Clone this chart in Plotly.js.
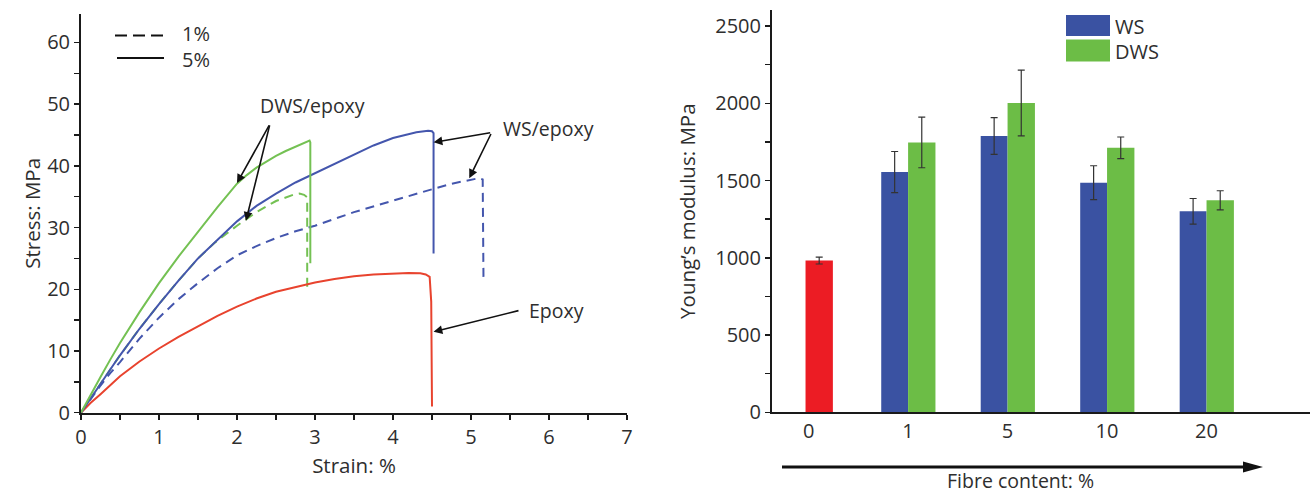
<!DOCTYPE html>
<html>
<head>
<meta charset="utf-8">
<script src="https://cdn.plot.ly/plotly-3.0.1.min.js"></script>
<style>html,body{margin:0;padding:0;background:#fff;}#chart{width:1310px;height:494px;}</style>
</head>
<body>
<div id="chart"></div>
<script>
// ---- Left panel: stress-strain curves ----
const strainWS5 = [0, 0.125, 0.25, 0.375, 0.5, 0.75, 1, 1.25, 1.5, 1.75, 2, 2.25, 2.5, 2.75, 3, 3.25, 3.5, 3.75, 4, 4.15, 4.3, 4.45, 4.5, 4.52, 4.52];
const stressWS5 = [0, 2.4, 4.7, 7.0, 9.3, 13.6, 17.6, 21.4, 25, 28, 31, 33.5, 35.5, 37.3, 38.8, 40.3, 41.9, 43.3, 44.5, 45.0, 45.45, 45.7, 45.6, 45.3, 25.8];

const strainWS1 = [0, 0.125, 0.25, 0.375, 0.5, 0.75, 1, 1.25, 1.5, 1.75, 2, 2.25, 2.5, 2.75, 3, 3.5, 4, 4.5, 4.75, 5, 5.1, 5.15, 5.16];
const stressWS1 = [0, 2.3, 4.4, 6.4, 8.2, 12, 15.4, 18.4, 21, 23.4, 25.5, 27.0, 28.3, 29.4, 30.3, 32.5, 34.4, 36.2, 37.1, 37.8, 38.0, 37.8, 21.8];

const strainDWS5 = [0, 0.125, 0.25, 0.375, 0.5, 0.75, 1, 1.25, 1.5, 1.75, 2, 2.125, 2.25, 2.375, 2.5, 2.625, 2.75, 2.85, 2.93, 2.94, 2.94];
const stressDWS5 = [0, 3.0, 5.8, 8.6, 11.3, 16.3, 21, 25.3, 29.3, 33.3, 37.1, 38.5, 39.7, 40.7, 41.6, 42.4, 43.1, 43.7, 44.1, 43.8, 24.2];

const strainDWS1 = [0, 0.125, 0.25, 0.375, 0.5, 0.75, 1, 1.25, 1.5, 1.72, 2.0, 2.25, 2.5, 2.62, 2.72, 2.8, 2.86, 2.9, 2.9];
const stressDWS1 = [0, 2.4, 4.7, 7.0, 9.3, 13.6, 17.6, 21.4, 25, 27.6, 30.3, 32.5, 34.3, 34.9, 35.3, 35.5, 35.3, 34.9, 20.1];

const strainEpoxy = [0, 0.125, 0.25, 0.5, 0.75, 1, 1.25, 1.5, 1.75, 2, 2.25, 2.5, 2.75, 3, 3.25, 3.5, 3.75, 4, 4.2, 4.35, 4.42, 4.47, 4.49, 4.5];
const stressEpoxy = [0, 1.6, 3, 5.9, 8.3, 10.4, 12.3, 14, 15.7, 17.2, 18.5, 19.6, 20.4, 21.1, 21.65, 22.1, 22.4, 22.6, 22.65, 22.6, 22.4, 22.0, 18, 1.0];

// ---- Right panel: Young's modulus ----
const fibreCats = ['0', '1', '5', '10', '20'];
const epoxyCat = ['0'];
const epoxyModulus = [982];
const epoxyErr = [22];
const wsCats = ['1', '5', '10', '20'];
const wsModulus = [1555, 1788, 1486, 1301];
const wsErr = [133, 119, 110, 83];
const dwsModulus = [1747, 2002, 1712, 1372];
const dwsErr = [164, 213, 70, 62];

const BLUE_LINE = '#4456ad', GREEN_LINE = '#74c153', RED_LINE = '#e8432e';
const BLUE_BAR = '#3a52a2', GREEN_BAR = '#6cbd46', RED_BAR = '#ec1c24';
const FONT = '"Open Sans", "Noto Sans", sans-serif';
const TXT = '#2e2e2e';

const W = 1310, H = 494;
const px = v => v / W, py = v => 1 - v / H;

const ln = (color, dash) => ({color: color, width: 2, dash: dash || 'solid', shape: 'linear'});

const traces = [
  {x: strainDWS1, y: stressDWS1, type: 'scatter', mode: 'lines', xaxis: 'x', yaxis: 'y',
   line: ln(GREEN_LINE, '9px,6px'), showlegend: false},
  {x: strainWS1, y: stressWS1, type: 'scatter', mode: 'lines', xaxis: 'x', yaxis: 'y',
   line: ln(BLUE_LINE, '9px,6px'), showlegend: false},
  {x: strainEpoxy, y: stressEpoxy, type: 'scatter', mode: 'lines', xaxis: 'x', yaxis: 'y',
   line: ln(RED_LINE), showlegend: false},
  {x: strainWS5, y: stressWS5, type: 'scatter', mode: 'lines', xaxis: 'x', yaxis: 'y',
   line: ln(BLUE_LINE), showlegend: false},
  {x: strainDWS5, y: stressDWS5, type: 'scatter', mode: 'lines', xaxis: 'x', yaxis: 'y',
   line: ln(GREEN_LINE), showlegend: false},

  {x: epoxyCat, y: epoxyModulus, type: 'bar', xaxis: 'x2', yaxis: 'y2', name: 'Epoxy',
   marker: {color: RED_BAR}, width: 0.275, offset: -0.031, showlegend: false,
   error_y: {type: 'data', array: epoxyErr, color: '#333', thickness: 1.2, width: 3.5}},
  {x: wsCats, y: wsModulus, type: 'bar', xaxis: 'x2', yaxis: 'y2', name: 'WS',
   marker: {color: BLUE_BAR}, width: 0.27, offset: -0.27, showlegend: false,
   error_y: {type: 'data', array: wsErr, color: '#333', thickness: 1.2, width: 3.5}},
  {x: wsCats, y: dwsModulus, type: 'bar', xaxis: 'x2', yaxis: 'y2', name: 'DWS',
   marker: {color: GREEN_BAR}, width: 0.275, offset: 0, showlegend: false,
   error_y: {type: 'data', array: dwsErr, color: '#333', thickness: 1.2, width: 3.5}}
];

const axisCommon = {
  showgrid: false, zeroline: false, showline: true, linecolor: '#1a1a1a', linewidth: 2,
  ticks: 'outside', ticklen: 5, tickwidth: 1.5, tickcolor: '#1a1a1a',
  tickfont: {family: FONT, size: 20, color: TXT}, fixedrange: true
};
const titleFont = {family: FONT, size: 20.5, color: TXT};
const annFont = {family: FONT, size: 19.5, color: TXT};
const legFont = {family: FONT, size: 20, color: TXT};

const layout = {
  width: W, height: H, margin: {l: 0, r: 0, t: 0, b: 0},
  paper_bgcolor: '#fff', plot_bgcolor: 'rgba(0,0,0,0)',
  font: {family: FONT, color: TXT},
  barmode: 'overlay', showlegend: false,
  xaxis: Object.assign({}, axisCommon, {
    domain: [px(81), px(627)], range: [0, 7], anchor: 'y',
    tickmode: 'array', tickvals: [0, 1, 2, 3, 4, 5, 6, 7],
    minor: {dtick: 0.5, ticks: 'outside', ticklen: 5, tickwidth: 1.5, tickcolor: '#1a1a1a', showgrid: false},
    title: {text: 'Strain: %', font: titleFont, standoff: 10}
  }),
  yaxis: Object.assign({}, axisCommon, {
    domain: [1 - 412.7 / H, 1 - 14 / H], range: [0, 64.6], anchor: 'x',
    tickmode: 'array', tickvals: [0, 10, 20, 30, 40, 50, 60],
    minor: {dtick: 5, ticks: 'outside', ticklen: 5, tickwidth: 1.5, tickcolor: '#1a1a1a', showgrid: false},
    title: {text: 'Stress: MPa', font: titleFont, standoff: 1}
  }),
  xaxis2: Object.assign({}, axisCommon, {
    domain: [px(772), 1], range: [-0.368, 5.04], anchor: 'y2', type: 'category',
    categoryorder: 'array', categoryarray: fibreCats, ticks: '', ticklen: 0
  }),
  yaxis2: Object.assign({}, axisCommon, {
    domain: [1 - 412.3 / H, 1 - 10 / H], range: [0, 2604], anchor: 'x2',
    tickmode: 'array', tickvals: [0, 500, 1000, 1500, 2000, 2500],
    minor: {dtick: 250, ticks: 'outside', ticklen: 5, tickwidth: 1.5, tickcolor: '#1a1a1a', showgrid: false},
    title: {text: 'Young\u2019s modulus: MPa', font: titleFont, standoff: 14}
  }),
  shapes: [
    // left legend
    {type: 'line', xref: 'paper', yref: 'paper', x0: px(115), x1: px(163), y0: py(35.5), y1: py(35.5),
     line: {color: '#111', width: 2, dash: '12px,6px'}},
    {type: 'line', xref: 'paper', yref: 'paper', x0: px(117), x1: px(164), y0: py(58), y1: py(58),
     line: {color: '#111', width: 2}},
    // right legend boxes
    {type: 'rect', xref: 'paper', yref: 'paper', x0: px(1066), x1: px(1110), y0: py(36), y1: py(15),
     fillcolor: BLUE_BAR, line: {width: 0}},
    {type: 'rect', xref: 'paper', yref: 'paper', x0: px(1066), x1: px(1110), y0: py(61.5), y1: py(39.5),
     fillcolor: GREEN_BAR, line: {width: 0}},
    // fibre content arrow
    {type: 'line', xref: 'paper', yref: 'paper', x0: px(782), x1: px(1248), y0: py(467), y1: py(467),
     line: {color: '#111', width: 3}},
    {type: 'path', xref: 'paper', yref: 'paper',
     path: 'M ' + px(1243) + ' ' + py(461.5) + ' L ' + px(1263) + ' ' + py(467) + ' L ' + px(1243) + ' ' + py(472.5) + ' Z',
     fillcolor: '#111', line: {width: 0}}
  ],
  annotations: [
    {xref: 'paper', yref: 'paper', x: px(180), y: py(33.5), text: '1%', showarrow: false, xanchor: 'left', yanchor: 'middle',
     height: 22, font: legFont},
    {xref: 'paper', yref: 'paper', x: px(180), y: py(59), text: '5%', showarrow: false, xanchor: 'left', yanchor: 'middle',
     height: 22, font: legFont},
    {xref: 'paper', yref: 'paper', x: px(1113), y: py(25.5), text: 'WS', showarrow: false, xanchor: 'left', yanchor: 'middle',
     height: 22, font: legFont},
    {xref: 'paper', yref: 'paper', x: px(1113), y: py(51), text: 'DWS', showarrow: false, xanchor: 'left', yanchor: 'middle',
     height: 22, font: legFont},
    {xref: 'paper', yref: 'paper', x: px(1020), y: -2 / H, text: 'Fibre content: %', showarrow: false,
     xanchor: 'center', yanchor: 'bottom', font: {family: FONT, size: 19.5, color: TXT}},
    // curve labels
    {xref: 'x', yref: 'y', x: 2.974, y: 49.7, text: 'DWS/epoxy', showarrow: false, font: annFont},
    {xref: 'x', yref: 'y', x: 5.99, y: 46.1, text: 'WS/epoxy', showarrow: false, font: annFont},
    {xref: 'x', yref: 'y', x: 6.10, y: 16.5, text: 'Epoxy', showarrow: false, font: annFont},
    // arrows
    {xref: 'x', yref: 'y', axref: 'x', ayref: 'y', x: 2.0, y: 37.2, ax: 2.423, ay: 46.8, text: '',
     showarrow: true, arrowhead: 2, arrowsize: 1.1, arrowwidth: 1.6, arrowcolor: '#111'},
    {xref: 'x', yref: 'y', axref: 'x', ayref: 'y', x: 2.115, y: 31.1, ax: 2.423, ay: 46.8, text: '',
     showarrow: true, arrowhead: 2, arrowsize: 1.1, arrowwidth: 1.6, arrowcolor: '#111'},
    {xref: 'x', yref: 'y', axref: 'x', ayref: 'y', x: 4.52, y: 43.8, ax: 5.265, ay: 45.4, text: '',
     showarrow: true, arrowhead: 2, arrowsize: 1.1, arrowwidth: 1.6, arrowcolor: '#111'},
    {xref: 'x', yref: 'y', axref: 'x', ayref: 'y', x: 4.978, y: 38.0, ax: 5.265, ay: 45.4, text: '',
     showarrow: true, arrowhead: 2, arrowsize: 1.1, arrowwidth: 1.6, arrowcolor: '#111'},
    {xref: 'x', yref: 'y', axref: 'x', ayref: 'y', x: 4.52, y: 13.1, ax: 5.628, ay: 16.6, text: '',
     showarrow: true, arrowhead: 2, arrowsize: 1.1, arrowwidth: 1.6, arrowcolor: '#111'}
  ]
};

Plotly.newPlot('chart', traces, layout, {staticPlot: true, displayModeBar: false});
</script>
</body>
</html>
